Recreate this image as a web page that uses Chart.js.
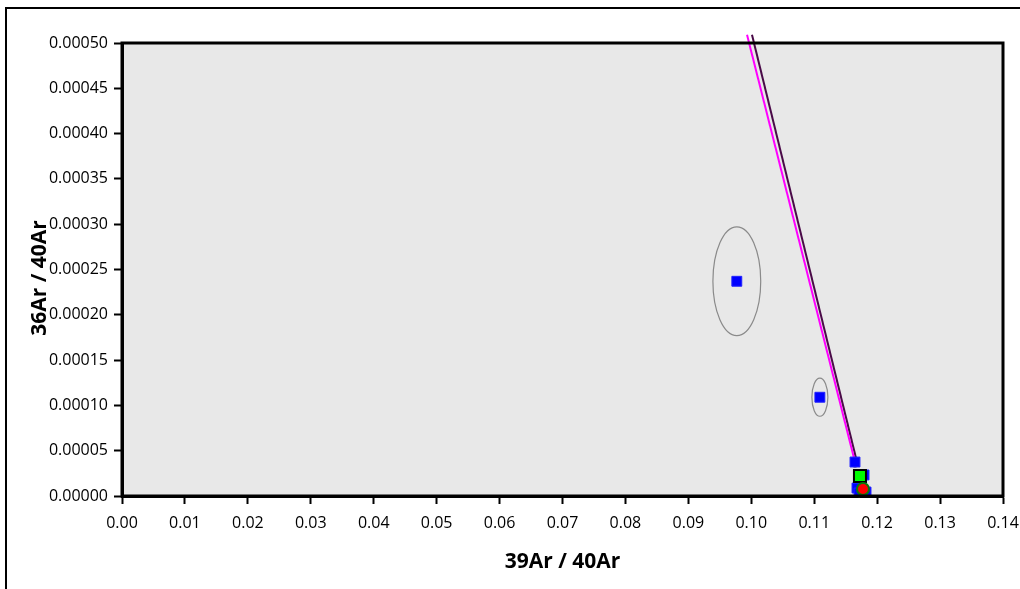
<!DOCTYPE html>
<html>
<head>
<meta charset="utf-8">
<title>Isochron 36Ar/40Ar vs 39Ar/40Ar</title>
<script src="https://cdn.jsdelivr.net/npm/chart.js@4.4.1/dist/chart.umd.min.js"></script>
<style>
  html, body { margin: 0; padding: 0; background: #fff; }
  #wrap { width: 1020px; height: 589px; position: relative; }
</style>
</head>
<body>
<div id="wrap"><canvas id="isoChart"></canvas></div>
<script>
// Step analyses (blue squares) with their error ellipse half-axes
const stepX = [0.0977, 0.1109, 0.11648, 0.11791, 0.11680, 0.11823, 0.11712];
const stepY = [0.000237, 0.000109, 0.0000375, 0.0000232, 0.0000088, 0.0000044, 0.0000033];
const stepErrX = [0.0038, 0.00127, 0.0004, 0.0004, 0.0003, 0.0003, 0.0003];
const stepErrY = [0.000060, 0.000021, 0.000006, 0.000006, 0.000004, 0.000004, 0.000004];

// Selected plateau point and the isochron intercept
const plateauX = [0.11727];
const plateauY = [0.0000221];
const interceptX = [0.11775];
const interceptY = [0.0000077];

// Regression lines
const fitAX = [0.09932, 0.11648];
const fitAY = [0.000509, 0.0000375];
const fitBX = [0.10011, 0.11664];
const fitBY = [0.000509, 0.0000419];

const xTitle = "39Ar / 40Ar";
const yTitle = "36Ar / 40Ar";

const FONT = "'Open Sans', 'Noto Sans', sans-serif";

function pts(xs, ys) {
  return xs.map((x, i) => ({ x: x, y: ys[i] }));
}

// gray plot background + outer frame
const framePlugin = {
  id: "frame",
  beforeDraw(chart) {
    const { ctx, chartArea: a } = chart;
    ctx.save();
    ctx.fillStyle = "#fff";
    ctx.fillRect(0, 0, chart.width, chart.height);
    ctx.strokeStyle = "#000";
    ctx.lineWidth = 2;
    ctx.strokeRect(6, 8, chart.width + 20, chart.height + 20);
    ctx.fillStyle = "#E8E8E8";
    ctx.fillRect(a.left, a.top, a.right - a.left, a.bottom - a.top);
    ctx.restore();
  },
  beforeDatasetsDraw(chart) {
    // error ellipses around each step
    const { ctx, scales: { x, y } } = chart;
    ctx.save();
    ctx.strokeStyle = "#8a8a8a";
    ctx.lineWidth = 1.2;
    stepX.forEach((v, i) => {
      const cx = x.getPixelForValue(v);
      const cy = y.getPixelForValue(stepY[i]);
      const rx = Math.abs(x.getPixelForValue(v + stepErrX[i]) - cx);
      const ry = Math.abs(y.getPixelForValue(stepY[i] + stepErrY[i]) - cy);
      ctx.beginPath();
      ctx.ellipse(cx, cy, rx, ry, 0, 0, Math.PI * 2);
      ctx.stroke();
    });
    ctx.restore();
  },
  afterDatasetsDraw(chart) {
    const { ctx, chartArea: a } = chart;
    ctx.save();
    ctx.strokeStyle = "#000";
    ctx.lineWidth = 3;
    ctx.strokeRect(a.left, a.top, a.right - a.left, a.bottom - a.top);
    ctx.restore();
  },
  afterDraw(chart) {
    const { ctx } = chart;
    ctx.save();
    ctx.translate(40, 278);
    ctx.rotate(-Math.PI / 2);
    ctx.font = "bold 21px " + FONT;
    ctx.fillStyle = "#000";
    ctx.textAlign = "center";
    ctx.textBaseline = "middle";
    ctx.fillText(yTitle, 0, 0);
    ctx.restore();
  },
};

new Chart(document.getElementById("isoChart"), {
  type: "scatter",
  data: {
    datasets: [
      {
        label: "Intercept",
        data: pts(interceptX, interceptY),
        pointStyle: "circle",
        pointRadius: 6,
        backgroundColor: "#FF0000",
        borderColor: "#0A7A0A",
        borderWidth: 2,
      },
      {
        label: "Plateau",
        data: pts(plateauX, plateauY),
        pointStyle: "rect",
        pointRadius: 8.5,
        backgroundColor: "#00FF00",
        borderColor: "#000",
        borderWidth: 2,
      },
      {
        label: "Steps",
        data: pts(stepX, stepY),
        pointStyle: "rect",
        pointRadius: 7,
        backgroundColor: "#0000FF",
        borderColor: "#2020FF",
        borderWidth: 1,
      },
      {
        label: "Fit A",
        data: pts(fitAX, fitAY),
        showLine: true,
        borderColor: "#FF00FF",
        borderWidth: 2,
        pointRadius: 0,
        clip: { left: 0, top: 10, right: 0, bottom: 0 },
      },
      {
        label: "Fit B",
        data: pts(fitBX, fitBY),
        showLine: true,
        borderColor: "#4A0A48",
        borderWidth: 2,
        pointRadius: 0,
        clip: { left: 0, top: 10, right: 0, bottom: 0 },
      },
    ],
  },
  options: {
    responsive: true,
    maintainAspectRatio: false,
    animation: false,
    layout: { padding: { left: 0, top: 43, right: 0, bottom: 14 } },
    plugins: {
      legend: { display: false },
      tooltip: { enabled: false },
    },
    scales: {
      x: {
        type: "linear",
        min: 0,
        max: 0.14,
        ticks: {
          stepSize: 0.01,
          padding: 10,
          color: "#000",
          font: { family: FONT, size: 16 },
          callback: (v) => v.toFixed(2),
        },
        grid: {
          drawOnChartArea: false,
          tickLength: 8,
          tickWidth: 2,
          color: "#000",
        },
        border: { color: "#000", width: 3 },
        title: {
          display: true,
          text: xTitle,
          color: "#000",
          padding: 0,
          font: { family: FONT, size: 21, weight: "bold" },
        },
        afterFit(scale) {
          scale.height = 79;
          scale.paddingRight = 17;
        },
      },
      y: {
        type: "linear",
        min: 0,
        max: 0.0005,
        ticks: {
          stepSize: 0.00005,
          padding: 6,
          color: "#000",
          font: { family: FONT, size: 16 },
          callback: (v) => v.toFixed(5),
        },
        grid: {
          drawOnChartArea: false,
          tickLength: 8,
          tickWidth: 2,
          color: "#000",
        },
        border: { color: "#000", width: 3 },
        afterFit(scale) { scale.width = 122; },
      },
    },
  },
  plugins: [framePlugin],
});
</script>
</body>
</html>
